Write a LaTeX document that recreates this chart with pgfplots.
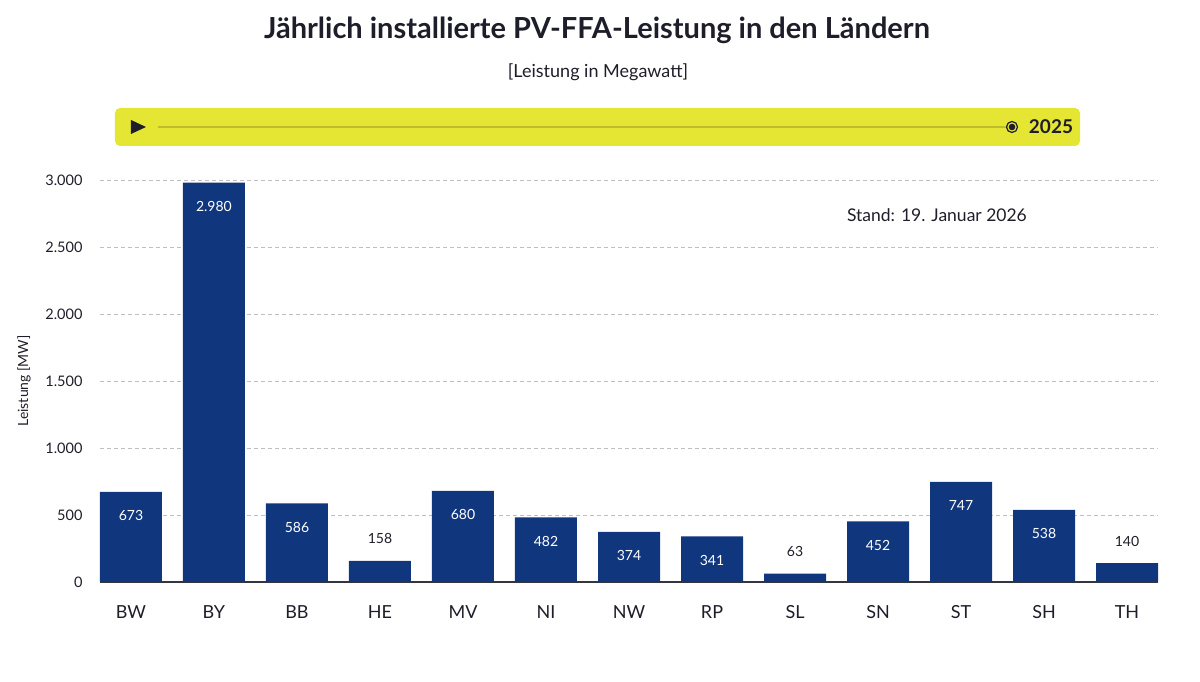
\documentclass[border=0pt]{standalone}
\usepackage{fontspec}
\setmainfont{Lato}
\usepackage{pgfplots}
\pgfplotsset{compat=1.18}

\definecolor{navy}{HTML}{10367E}
\definecolor{barbg}{HTML}{E5E533}
\definecolor{track}{HTML}{BDBD2C}
\definecolor{ink}{HTML}{1E1E2A}

\pgfplotstableread{
x y
0 673
1 2980
2 586
3 158
4 680
5 482
6 374
7 341
8 63
9 452
10 747
11 538
12 140
}\pvdata

\begin{document}
\begin{tikzpicture}[x=1pt,y=1pt]
\path[use as bounding box] (-100,-100) rectangle (1100,582);

% title block
\node[font=\fontsize{29}{33}\selectfont\bfseries, text=ink] at (497,552) {Jährlich installierte PV-FFA-Leistung in den Ländern};
\node[font=\fontsize{18}{21}\selectfont, text=ink] at (498,510) {[Leistung in Megawatt]};

% timeline bar
\fill[barbg, rounded corners=5pt] (15,474) rectangle (980,436);
\fill[ink] (31,462) -- (31,448) -- (46,455) -- cycle;
\draw[track, line width=2pt] (58,455) -- (910,455);
\fill[barbg] (912,455) circle (6.5);
\draw[ink, line width=1.2pt] (912,455) circle (5.5);
\fill[ink] (912,455) circle (3.3);
\node[font=\fontsize{19}{22}\selectfont\bfseries, text=ink] at (951,455) {2025};

% y axis title
\node[rotate=90, font=\fontsize{14}{16}\selectfont, text=ink] at (-76,201) {Leistung [MW]};

\begin{axis}[
  at={(0,0)}, anchor=south west,
  scale only axis,
  width=1058pt, height=402pt,
  xmin=-0.373, xmax=12.373,
  ymin=0, ymax=3000,
  axis x line*=bottom,
  axis y line*=left,
  y axis line style={draw=none},
  x axis line style={color=ink!90, line width=1.2pt},
  major tick length=0pt,
  xtick={0,...,12},
  xticklabels={BW,BY,BB,HE,MV,NI,NW,RP,SL,SN,ST,SH,TH},
  ytick={0,500,...,3000},
  ymajorgrids,
  grid style={color=black!25, dash pattern=on 4pt off 3pt, line width=0.8pt},
  /pgf/number format/.cd, 1000 sep={.}, assume math mode=true, /pgfplots/.cd,
  yticklabel style={font=\fontsize{14.5}{16}\selectfont, text=ink, xshift=-14pt},
  xticklabel style={font=\fontsize{18}{20}\selectfont, text=ink, yshift=-20pt},
  clip=false,
]
\addplot[ybar, bar width=0.747, bar shift=0pt, fill=navy, draw=none] table[x=x,y=y] {\pvdata};
% labels inside the taller bars
\addplot[draw=none, mark=none, y filter/.expression={y<300 ? nan : y},
  nodes near coords,
  every node near coord/.style={font=\fontsize{14}{16}\selectfont, text=white, anchor=center, yshift=-24pt}]
  table[x=x,y=y] {\pvdata};
% labels above the short bars
\addplot[draw=none, mark=none, y filter/.expression={y<300 ? y : nan},
  nodes near coords,
  every node near coord/.style={font=\fontsize{14}{16}\selectfont, text=ink, anchor=center, yshift=22pt}]
  table[x=x,y=y] {\pvdata};
\node[font=\fontsize{17.5}{21}\selectfont, text=ink] at (axis cs:9.71,2740) {Stand: 19. Januar 2026};
\end{axis}
\end{tikzpicture}
\end{document}
